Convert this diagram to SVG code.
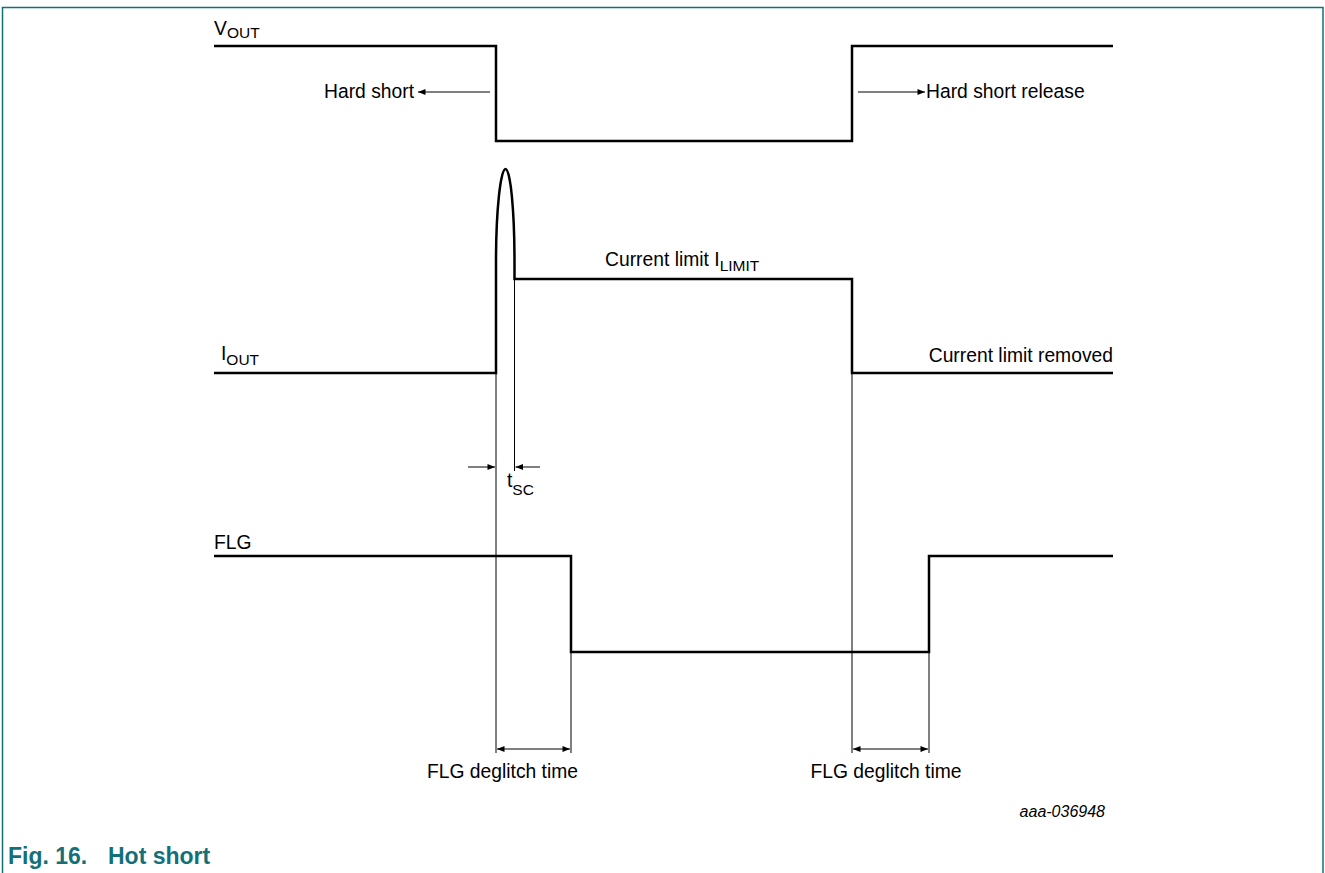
<svg xmlns="http://www.w3.org/2000/svg" width="1325" height="873" viewBox="0 0 1325 873">
<defs>
<style>
.sig{fill:none;stroke:#000;stroke-width:2.5;stroke-linejoin:miter}
.thin{fill:none;stroke:#000;stroke-width:1}
.t{font-family:"Liberation Sans",Arial,sans-serif;font-size:19.3px;fill:#000}
.sub{font-size:15.5px}
.id{font-family:"Liberation Sans",Arial,sans-serif;font-size:16px;font-style:italic;fill:#000}
.cap{font-family:"Liberation Sans",Arial,sans-serif;font-size:23px;font-weight:bold;fill:#137079}
</style>
<marker id="ah" viewBox="0 0 10 8" refX="10" refY="4" markerWidth="9" markerHeight="6" markerUnits="userSpaceOnUse" orient="auto-start-reverse">
<path d="M0,0 L10,4 L0,8 Z" fill="#000"/>
</marker>
</defs>
<rect width="1325" height="873" fill="#fff"/>
<path d="M2.5,873 V7.5 H1323 V873" fill="none" stroke="#137079" stroke-width="1.5"/>

<g id="vout">
<path class="sig" d="M214,46 H496 V141 H852 V46 H1113"/>
<text class="t" x="214" y="35">V<tspan class="sub" dy="3">OUT</tspan></text>
</g>

<g id="iout">
<path class="sig" d="M214,373 H496 V262 C496,211 500.5,169 505.5,169 C510.5,169 514.5,211 514.5,262 V279 H852 V373 H1113"/>
<text class="t" x="221" y="360">I<tspan class="sub" dy="5">OUT</tspan></text>
<text class="t" x="605" y="266">Current limit I<tspan class="sub" dy="5">LIMIT</tspan></text>
<text class="t" x="1113" y="362" text-anchor="end">Current limit removed</text>
</g>

<g id="flg">
<path class="sig" d="M214,556 H571 V652 H929 V556 H1113"/>
<text class="t" x="214" y="549">FLG</text>
</g>

<g id="labels">
<text class="t" x="414" y="98" text-anchor="end">Hard short</text>
<text class="t" x="926" y="98">Hard short release</text>
<text class="t" x="507" y="487">t<tspan class="sub" dy="8">SC</tspan></text>
<text class="t" x="502.5" y="778" text-anchor="middle">FLG deglitch time</text>
<text class="t" x="886" y="778" text-anchor="middle">FLG deglitch time</text>
<text class="id" x="1105" y="817" text-anchor="end">aaa-036948</text>
</g>

<g id="connectors">
<line class="thin" x1="496" y1="373" x2="496" y2="753"/>
<line class="thin" x1="514.5" y1="279" x2="514.5" y2="471"/>
<line class="thin" x1="852" y1="373" x2="852" y2="753"/>
<line class="thin" x1="571" y1="652" x2="571" y2="753"/>
<line class="thin" x1="929" y1="652" x2="929" y2="753"/>
<line class="thin" x1="490" y1="92" x2="418" y2="92" marker-end="url(#ah)"/>
<line class="thin" x1="858" y1="92" x2="925" y2="92" marker-end="url(#ah)"/>
<line class="thin" x1="468" y1="467" x2="495" y2="467" marker-end="url(#ah)"/>
<line class="thin" x1="540" y1="467" x2="515.5" y2="467" marker-end="url(#ah)"/>
<line class="thin" x1="497" y1="749" x2="570" y2="749" marker-start="url(#ah)" marker-end="url(#ah)"/>
<line class="thin" x1="853" y1="749" x2="928" y2="749" marker-start="url(#ah)" marker-end="url(#ah)"/>
</g>

<g id="caption">
<text class="cap" x="8" y="864">Fig. 16.</text>
<text class="cap" x="108" y="864">Hot short</text>
</g>
</svg>
